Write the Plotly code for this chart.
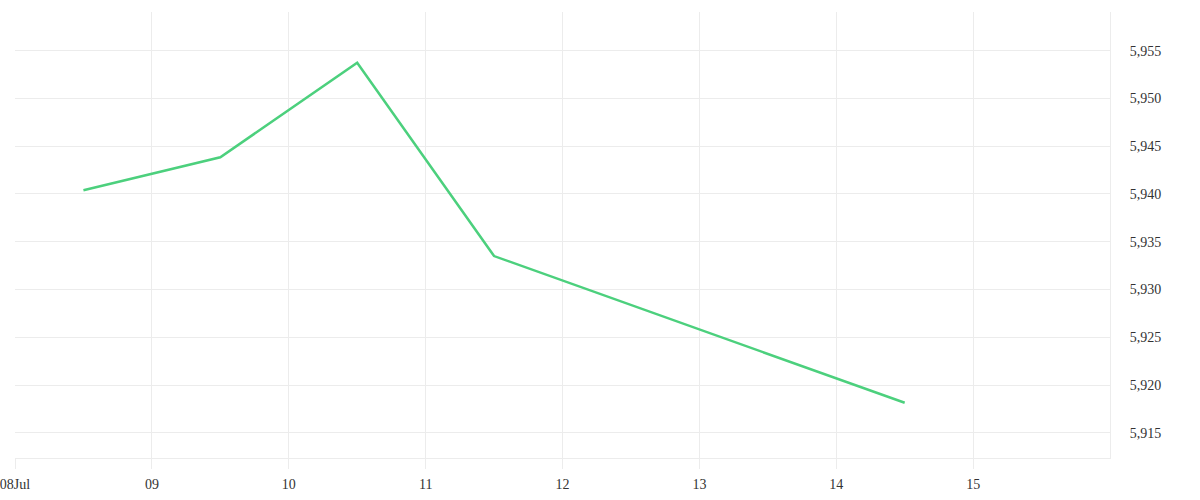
import plotly.graph_objects as go

dates = ["2024-07-08 12:00", "2024-07-09 12:00", "2024-07-10 12:00", "2024-07-11 12:00", "2024-07-14 12:00"]
values = [5940.38, 5943.84, 5953.74, 5933.5, 5918.14]

tick_dates = ["2024-07-08", "2024-07-09", "2024-07-10", "2024-07-11", "2024-07-12",
              "2024-07-13", "2024-07-14", "2024-07-15"]
tick_labels = ["08Jul", "09", "10", "11", "12", "13", "14", "15"]
y_ticks = [5915, 5920, 5925, 5930, 5935, 5940, 5945, 5950, 5955]

grid = "#ececec"
font = dict(family="Liberation Serif, DejaVu Serif, serif", size=14, color="#333333")

fig = go.Figure(go.Scatter(
    x=dates, y=values, mode="lines",
    line=dict(color="#4cd07d", width=2.5),
    hoverinfo="x+y",
))

fig.update_layout(
    width=1200, height=500,
    margin=dict(l=15, r=90, t=12, b=42, autoexpand=False),
    paper_bgcolor="white", plot_bgcolor="white",
    showlegend=False,
    font=font,
    xaxis=dict(
        type="date",
        range=["2024-07-08", "2024-07-16"],
        tickvals=tick_dates, ticktext=tick_labels,
        showgrid=True, gridcolor=grid, gridwidth=1,
        ticks="outside", ticklen=10, tickcolor=grid, tickwidth=1,
        showline=True, linecolor=grid, linewidth=1,
        zeroline=False, tickfont=font,
        ticklabeloverflow="allow", ticklabelstandoff=3,
    ),
    yaxis=dict(
        side="right",
        range=[5912.36, 5959.05],
        tickvals=y_ticks,
        ticktext=[f"{v:,}" for v in y_ticks],
        showgrid=True, gridcolor=grid, gridwidth=1,
        showline=True, linecolor=grid, linewidth=1,
        ticks="", ticklabelstandoff=16,
        zeroline=False, tickfont=font,
    ),
)

fig.write_html("out.html", config={"displayModeBar": False},
               post_script="document.body.style.margin='0';")
